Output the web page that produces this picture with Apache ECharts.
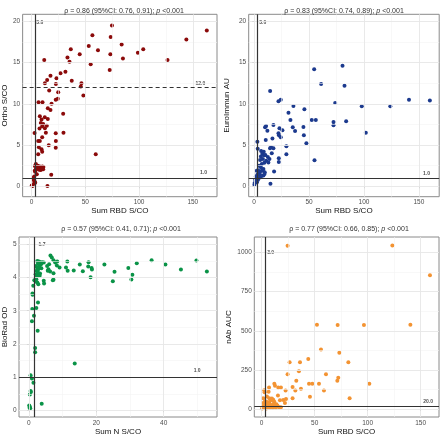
<!DOCTYPE html>
<html><head><meta charset="utf-8">
<script src="https://cdn.jsdelivr.net/npm/echarts@6/dist/echarts.min.js"></script>
<style>html,body{margin:0;padding:0;background:#fff}#c{width:440px;height:437px}</style>
</head><body><div id="c"></div>
<script>
// ---------- data ----------
const orthoX = [74.8,56.6,73.6,163,144,83.8,53.2,61.8,103.9,98.9,36.5,44.8,73.3,33.4,35.3,11.8,55,85,126.5,72.7,
 31.5,26.9,17.6,23.2,14.5,37.4,12.4,46.4,45.8,22.6,16.4,24.8,48.2,6.5,10.2,24.4,22.5,18.6,15.1,17.6,29.4,7.7,12.3,9.3,15.1,8.6,10.8,9.9,7.4,14.2,12.4,13.3,2.8,22.5,29.7,9.9,6.2,7.7,22.6,16,6.8,22.5,9.3,9.9,6.2,59.7,
 3.1,4.0,5.3,5.8,7.7,8.9,10.1,11.0,4.0,6.5,8.6,10.8,3.4,4.9,2.5,1.9,2.8,3.4,0.9,0.2,18.3,14.8,1.5,6.0,7.2,9.5,3.0,2.2];
const orthoY = [19.5,18.3,18.1,18.9,17.8,17.2,17.0,16.5,16.6,16.2,16.6,16.0,16.0,15.6,15.1,15.3,14.8,15.5,15.3,14.1,
 13.9,13.7,13.4,13.1,12.9,12.8,12.5,12.5,12.1,12.4,11.6,11.4,11.0,10.2,10.2,10.6,10.5,10.0,9.45,9.25,8.8,8.5,8.36,8.1,8.16,7.67,7.55,7.27,7.0,7.35,7.03,6.5,6.46,6.42,6.5,5.94,5.5,5.5,5.5,4.97,4.72,4.68,4.48,4.2,3.88,3.88,
 2.46,2.7,2.3,2.5,2.4,2.33,2.4,2.33,2.06,2.06,1.98,2.06,1.76,1.45,1.2,0.8,0.6,0.44,0.04,0.1,1.4,0.04,1.0,2.2,2.0,2.2,1.9,0.3];

const euroX = [80.5,54.7,61,82.3,14.6,24.3,22.2,141,160,73.8,98,124,35.8,45.8,31.3,33.1,52.5,56.2,83.8,72.3,72.3,17.6,10.9,10.0,35.2,44.9,23.1,12.1,25.8,37.3,101.7,22.2,22.6,45.3,24.3,16.7,10.6,3.0,47.6,29.4,3.3,15.5,17.6,14.5,6.4,8.8,16.1,29.4,7.5,9.2,6.2,10.3,12.5,22.5,14.0,8.0,11.0,5.5,9.3,7.0,13.0,55,22.5,4.5,6.2,8.5,18.2,14.9,
 2.4,3.7,4.5,6.5,7.8,9.7,5.5,3.0,1.6,2.6,4.2,1.0,2.6,3.6,0.3,0.5,8.5,6.0,9.5,1.8];
const euroY = [14.6,14.2,12.4,12.2,11.55,10.5,10.3,10.5,10.4,10.1,9.7,9.7,9.73,9.33,8.92,8.04,8.04,8.04,7.9,7.8,7.4,7.43,7.3,7.15,7.15,7.19,7.03,6.74,6.79,6.7,6.5,6.42,6.2,6.18,5.95,5.78,5.6,5.41,5.21,4.87,4.56,4.72,4.62,4.6,4.28,4.2,4.02,3.88,3.95,3.75,3.6,3.8,3.55,3.39,3.3,3.3,3.1,3.2,2.85,2.7,2.9,3.15,2.95,2.5,2.3,2.1,1.8,0.3,
 1.9,1.95,1.7,1.85,1.95,1.7,1.4,1.4,1.2,1.0,1.0,0.8,0.5,0.8,0.2,0.4,1.3,1.1,1.5,0.6];

const bioX = [6.4,8.4,11.4,17.7,15.1,22.4,32,36.4,49.7,40.5,17.6,18.6,18.7,13.3,16,29.5,45.1,52.8,25.4,18.3,30.7,30.4,24.9,7.1,13.6,11.0,11.5,9.1,7.3,6.8,7.3,7.8,8.3,5.4,5.8,6.0,5.6,6.3,
 2.5,3.0,3.4,3.9,4.4,2.7,3.2,3.6,2.1,2.4,2.8,3.1,3.7,2.3,2.7,3.3,2.0,2.6,3.2,2.2,1.6,2.0,2.5,2.8,2.2,4.4,4.5,7.3,
 1.3,1.06,1.1,2.7,1.0,2.2,1.5,0.9,2.6,1.85,1.85,0.5,0.9,1.35,0.5,0.6,0.3,0.1,0.3,0.4,0.2,3.8];
const bioY = [4.66,4.48,4.48,4.46,4.39,4.39,4.43,4.52,4.51,4.39,4.33,4.29,4.24,4.21,4.19,4.29,4.24,4.18,4.17,4.01,4.08,3.94,3.89,3.92,1.41,4.3,4.2,4.3,4.13,4.6,4.52,4.45,4.36,4.35,4.25,4.4,4.2,4.18,
 4.5,4.48,4.45,4.46,4.45,4.42,4.38,4.4,4.35,4.3,4.25,4.32,4.28,4.2,4.15,4.12,4.1,4.05,4.05,4.0,3.92,3.88,3.85,3.8,3.95,3.9,3.82,3.93,
 3.75,3.52,3.48,3.25,3.05,3.08,2.85,2.68,2.4,1.88,1.75,1.06,0.96,0.83,0.58,0.55,0.48,0.15,0.1,0.06,0.08,0.2];

const nabX = [24.5,123.3,158.8,52.2,71.7,96.5,140.3,56,73.3,44,26.4,36.2,81.8,35.2,24.5,60.7,32.7,71.4,72.3,44.7,47.8,54.1,101.6,12,12.6,7,15.7,18.2,29.2,37.1,31.8,58.8,22.6,2.5,2.8,6.6,45.6,5,15.4,29.2,83,23,9.7,17.3,11,12,22,7.2,1.6,3.1,4.5,1.5,7.2,8.5,10,20.4,
 0.5,1.5,3,4.5,6,7.5,9,10.5,12,13.5,15,16.5,18.2,2,4,6,8,10,14,5,1,3,11];
const nabY = [1044,1046,856,539,537,537,539,380,359,319,298,298,298,241,222,222,180,180,199,161,161,161,161,161,148,137,137,137,140,129,118,118,118,120,106,110,78,80,85,68,68,63,66,55,58,45,38,44,38,49,45,68,68,62,55,57,
 2,5,8,3,10,5,12,6,15,8,20,10,10,20,25,18,28,22,30,35,12,15,32];

// tick values
const ticksRBD = [0,50,100,150], minorRBD = [25,75,125];
const ticksN = [0,20,40], minorN = [10,30,50];
const ticksS = [0,5,10,15,20], minorS = [2.5,7.5,12.5,17.5];
const ticksOD = [0,1,2,3,4,5], minorOD = [0.5,1.5,2.5,3.5,4.5];
const ticksAUC = [0,250,500,750,1000], minorAUC = [125,375,625,875];

// titles (rho, CI, p)
const titles = [
 ['0.86','0.76, 0.91','<0.001'],
 ['0.83','0.74, 0.89','<0.001'],
 ['0.57','0.41, 0.71','<0.001'],
 ['0.77','0.66, 0.85','<0.001']
];
// cutoffs
const vCut = [3.0, 3.0, 1.7, 3.0];
const hCut = [[1.0, 12.0], [1.0], [1.0], [20.0]];
const dashedH = [[false, true], [false], [false], [false]];
// cutoff labels [x, y, text]
const cutLabels = [
 [[7.7,19.9,'3.0'],[157,12.5,'12.0'],[160,1.6,'1.0']],
 [[7.9,19.9,'3.0'],[157,1.5,'1.0']],
 [[3.9,4.99,'1.7'],[49.9,1.19,'1.0']],
 [[8.5,998,'3.0'],[157,44,'20.0']]
];
const xNames = ['Sum RBD S/CO','Sum RBD S/CO','Sum N S/CO','Sum RBD S/CO'];
const yNames = ['Ortho S/CO','EuroImmun AU','BioRad OD','nAb AUC'];
const colors = ['#8b0a0a','#1c3a8e','#0a9347','#f39332'];

// ---------- layout ----------
const layout = [
 {grid:{left:22,top:14.3,width:195,height:182.4}, xr:[-8.3,172.5], yr:[-1.26,20.85], xt:ticksRBD, xm:minorRBD, yt:ticksS, ym:minorS, tx:119, ty:3, yGap:13},
 {grid:{left:248.7,top:14.3,width:190.5,height:182.4}, xr:[-4.9,168.5], yr:[-1.26,20.85], xt:ticksRBD, xm:minorRBD, yt:ticksS, ym:minorS, tx:339, ty:3, yGap:18},
 {grid:{left:16.7,top:237,width:200.3,height:180}, xr:[-2.93,55.8], yr:[-0.2,5.22], xt:ticksN, xm:minorN, yt:ticksOD, ym:minorOD, tx:116, ty:221, yGap:9},
 {grid:{left:254.3,top:237,width:184.7,height:180}, xr:[-6.9,167.3], yr:[-52,1100], xt:ticksRBD, xm:minorRBD, yt:ticksAUC, ym:minorAUC, tx:344, ty:221, yGap:22}
];
const dataSets = [[orthoX,orthoY],[euroX,euroY],[bioX,bioY],[nabX,nabY]];
const FONT = 'Liberation Sans, Arial, sans-serif';

const grids=[], xAxes=[], yAxes=[], series=[], titleComps=[];
layout.forEach((L,i)=>{
  grids.push(Object.assign({show:true, borderColor:'#8a8a8a', borderWidth:1, backgroundColor:'#fff', containLabel:false}, L.grid));
  xAxes.push({type:'value', gridIndex:i, min:L.xr[0], max:L.xr[1],
    axisLine:{show:false}, splitLine:{show:false},
    axisTick:{show:true, customValues:L.xt, length:2, lineStyle:{color:'#333',width:0.8}},
    axisLabel:{customValues:L.xt, fontSize:6.5, color:'#4d4d4d', margin:2.5, fontFamily:FONT, formatter:v=>String(v)},
    name:xNames[i], nameLocation:'middle', nameGap:10, nameTextStyle:{fontSize:8, color:'#111', fontFamily:FONT}});
  yAxes.push({type:'value', gridIndex:i, min:L.yr[0], max:L.yr[1],
    axisLine:{show:false}, splitLine:{show:false},
    axisTick:{show:true, customValues:L.yt, length:2, lineStyle:{color:'#333',width:0.8}},
    axisLabel:{customValues:L.yt, fontSize:6.5, color:'#4d4d4d', margin:2.5, fontFamily:FONT, formatter:v=>String(v)},
    name:yNames[i], nameLocation:'middle', nameGap:L.yGap, nameTextStyle:{fontSize:8, color:'#111', fontFamily:FONT}});
  // grid lines
  const gl = [];
  L.xm.forEach(v=>gl.push({xAxis:v, lineStyle:{color:'#f3f3f3', width:0.6, type:'solid'}}));
  L.ym.forEach(v=>gl.push({yAxis:v, lineStyle:{color:'#f3f3f3', width:0.6, type:'solid'}}));
  L.xt.forEach(v=>gl.push({xAxis:v, lineStyle:{color:'#e6e6e6', width:0.9, type:'solid'}}));
  L.yt.forEach(v=>gl.push({yAxis:v, lineStyle:{color:'#e6e6e6', width:0.9, type:'solid'}}));
  series.push({type:'scatter', xAxisIndex:i, yAxisIndex:i, data:[], z:1, silent:true,
    markLine:{silent:true, symbol:'none', animation:false, label:{show:false}, emphasis:{disabled:true}, data:gl}});
  // cutoff lines
  const cl = [{xAxis:vCut[i], lineStyle:{color:'#333', width:1.2, type:'solid'}}];
  hCut[i].forEach((v,k)=>cl.push({yAxis:v, lineStyle:{color:'#333', width:1.2, type: dashedH[i][k] ? [4,3] : 'solid'}}));
  series.push({type:'scatter', xAxisIndex:i, yAxisIndex:i, data:[], z:2, silent:true,
    markLine:{silent:true, symbol:'none', animation:false, label:{show:false}, emphasis:{disabled:true}, data:cl}});
  // points
  const [xs, ys] = dataSets[i];
  series.push({type:'scatter', xAxisIndex:i, yAxisIndex:i, z:3, symbol:'circle', symbolSize:4, silent:true,
    label:{show:false}, emphasis:{disabled:true}, large:false,
    itemStyle:{color:colors[i], opacity:1, borderWidth:0}, data: xs.map((x,k)=>[x, ys[k]]), animation:false});
  // cutoff labels
  series.push({type:'scatter', xAxisIndex:i, yAxisIndex:i, z:4, symbolSize:0, animation:false, silent:true,
    data: cutLabels[i].map(d=>({value:[d[0],d[1]], name:d[2]})),
    label:{show:true, position:'inside', formatter:p=>p.name, fontSize:5, fontWeight:'bold', color:'#222', fontFamily:FONT}});
  const t = titles[i];
  titleComps.push({text:'{n|ρ = '+t[0]+' (95%CI: '+t[1]+'); }{i|p}{n| '+t[2]+'}', left:L.tx, top:L.ty, textAlign:'center',
    textStyle:{fontWeight:'normal', fontSize:7, rich:{n:{fontSize:7, fontWeight:'normal', color:'#333', fontFamily:FONT}, i:{fontSize:7, fontWeight:'normal', fontStyle:'italic', color:'#333', fontFamily:FONT}}}});
});

const chart = echarts.init(document.getElementById('c'), null, {renderer:'canvas'});
chart.setOption({animation:false, backgroundColor:'#fff', tooltip:{show:false}, title:titleComps, grid:grids, xAxis:xAxes, yAxis:yAxes, series:series});
</script>
</body></html>
